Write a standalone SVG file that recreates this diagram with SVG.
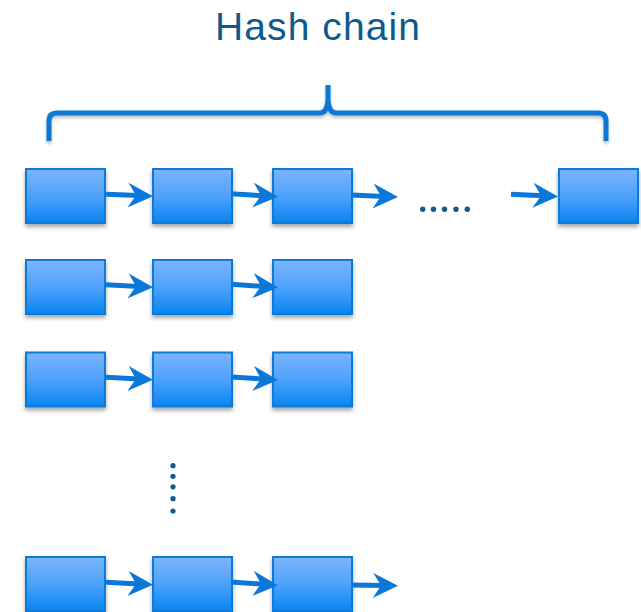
<svg xmlns="http://www.w3.org/2000/svg" width="641" height="612" viewBox="0 0 641 612">
  <style>
    .box { fill: url(#boxFill); stroke: #0b7ad8; stroke-width: 2; filter: url(#shadow); }
    .link { fill: none; stroke: #0a78d8; stroke-width: 5; marker-end: url(#head); }
    .brace { fill: none; stroke: #0a77d6; stroke-width: 5; stroke-linejoin: round; filter: url(#softShadow); }
    .dot { fill: #0f5b8d; }
    .title { font-family: "Liberation Sans", Arial, sans-serif; font-size: 39px; fill: #0e5a8c; }
  </style>
  <defs>
    <linearGradient id="boxFill" x1="0" y1="0" x2="0" y2="1">
      <stop offset="0" stop-color="#7db4fd"/>
      <stop offset="0.5" stop-color="#4ea2fb"/>
      <stop offset="1" stop-color="#0884f2"/>
    </linearGradient>
    <filter id="shadow" x="-20%" y="-20%" width="140%" height="160%">
      <feDropShadow dx="0" dy="3" stdDeviation="2.2" flood-color="#000" flood-opacity="0.35"/>
    </filter>
    <filter id="softShadow" x="-5%" y="-20%" width="110%" height="160%">
      <feDropShadow dx="0" dy="2.5" stdDeviation="1.8" flood-color="#000" flood-opacity="0.25"/>
    </filter>
    <marker id="head" markerUnits="userSpaceOnUse" orient="auto" overflow="visible" refX="0" refY="0" markerWidth="30" markerHeight="30">
      <path d="M14,0 L-11,-12.5 L-3,0 L-11,12.5 Z" fill="#0a78d8"/>
    </marker>
  </defs>

  <g id="title">
    <text class="title" x="215" y="39.5" textLength="205" lengthAdjust="spacing">Hash chain</text>
  </g>

  <g id="brace">
    <path class="brace" d="M49,141 V121 Q49,113 57,113 H320 Q327,113 328,100 V85 M328,100 Q329,113 336,113 H598 Q606,113 606,121 V141"/>
  </g>

  <!-- chain 1 -->
  <g id="c1n1"><rect class="box" x="26" y="169" width="79" height="54"/></g>
  <g id="c1n2"><rect class="box" x="153" y="169" width="79" height="54"/></g>
  <g id="c1n3"><rect class="box" x="273" y="169" width="79" height="54"/></g>
  <g id="c1more">
    <circle class="dot" cx="422.7" cy="209.3" r="2.7"/>
    <circle class="dot" cx="433.5" cy="209.3" r="2.7"/>
    <circle class="dot" cx="444.5" cy="209.3" r="2.7"/>
    <circle class="dot" cx="456" cy="209.3" r="2.7"/>
    <circle class="dot" cx="467.3" cy="209.3" r="2.7"/>
  </g>
  <g id="c1nLast"><rect class="box" x="559" y="169" width="79" height="54"/></g>

  <!-- chain 2 -->
  <g id="c2n1"><rect class="box" x="26" y="260" width="79" height="54"/></g>
  <g id="c2n2"><rect class="box" x="153" y="260" width="79" height="54"/></g>
  <g id="c2n3"><rect class="box" x="273" y="260" width="79" height="54"/></g>

  <!-- chain 3 -->
  <g id="c3n1"><rect class="box" x="26" y="352.5" width="79" height="54"/></g>
  <g id="c3n2"><rect class="box" x="153" y="352.5" width="79" height="54"/></g>
  <g id="c3n3"><rect class="box" x="273" y="352.5" width="79" height="54"/></g>

  <g id="moreChains">
    <circle class="dot" cx="173" cy="465.7" r="2.6"/>
    <circle class="dot" cx="173" cy="476.3" r="2.6"/>
    <circle class="dot" cx="173" cy="486.8" r="2.6"/>
    <circle class="dot" cx="173" cy="498.7" r="2.6"/>
    <circle class="dot" cx="173" cy="511" r="2.6"/>
  </g>

  <!-- chain n -->
  <g id="cNn1"><rect class="box" x="26" y="557" width="79" height="54"/></g>
  <g id="cNn2"><rect class="box" x="153" y="557" width="79" height="54"/></g>
  <g id="cNn3"><rect class="box" x="273" y="557" width="79" height="54"/></g>

  <g id="connectors">
    <!-- chain 1 -->
    <path class="link" d="M106,194.2 L139,195.6"/>
    <path class="link" d="M231,193.8 L264,195.8"/>
    <path class="link" d="M352,195 L384,196.4"/>
    <path class="link" d="M511,194.3 L544,195.8"/>
    <!-- chain 2 -->
    <path class="link" d="M106,284.7 L139,286.5"/>
    <path class="link" d="M231,284.2 L264,286.5"/>
    <!-- chain 3 -->
    <path class="link" d="M106,377.3 L139,379.1"/>
    <path class="link" d="M231,377 L264,379.1"/>
    <!-- chain n -->
    <path class="link" d="M106,582.3 L139,584.1"/>
    <path class="link" d="M231,582 L264,584.2"/>
    <path class="link" d="M352,585 L384,585.6"/>
  </g>
</svg>
